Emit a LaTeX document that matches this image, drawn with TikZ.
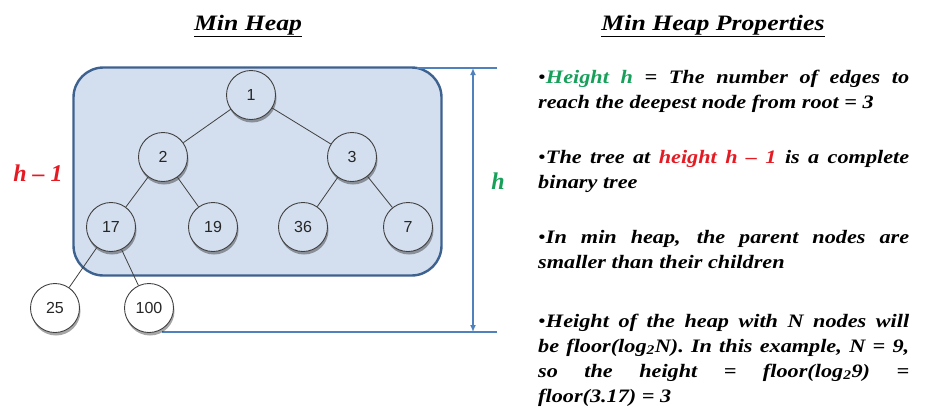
\documentclass[tikz,border=0pt]{standalone}
\usepackage{fontspec}
\setmainfont[FakeStretch=1.17]{Liberation Serif}
\newfontfamily\labelfont{Liberation Serif}
\newfontfamily\treefont{Liberation Sans}
\usetikzlibrary{shadows,arrows.meta}
\definecolor{boxfill}{HTML}{D3DEEE}
\definecolor{boxline}{HTML}{3E6290}
\definecolor{dimline}{HTML}{4F81BD}
\definecolor{hgreen}{HTML}{17A05A}
\definecolor{hred}{HTML}{E51B24}
\definecolor{edgegray}{HTML}{404040}
\tikzset{
  heapnode/.style={circle, draw=edgegray, line width=0.9pt, fill=boxfill, minimum size=49pt, inner sep=0pt,
    font=\treefont\fontsize{16}{16}\selectfont, text=black!85,
    drop shadow={shadow xshift=1pt, shadow yshift=-3pt, opacity=0.35, fill=black}},
  leafnode/.style={heapnode, fill=white},
  treeedge/.style={draw=edgegray, line width=0.8pt},
  dim/.style={draw=dimline, line width=1.6pt},
  prop/.style={anchor=base west, inner sep=0pt, text width=371pt, align=justify,
    font=\bfseries\itshape\fontsize{19}{25}\selectfont},
  title/.style={anchor=base, inner sep=0pt, font=\bfseries\itshape\fontsize{22}{26}\selectfont},
  hlabel/.style={anchor=base, inner sep=0pt, font=\labelfont\bfseries\itshape\fontsize{24}{24}\selectfont}
}
\begin{document}
\begin{tikzpicture}[x=1pt,y=-1pt]
\useasboundingbox (0,0) rectangle (926,416);
% titles
\node[title] (t1) at (248,30) {\underline{Min Heap}};
\node[title] (t2) at (713,30) {\underline{Min Heap Properties}};
% box
\node[draw=boxline, line width=2.4pt, fill=boxfill, rounded corners=30pt, minimum width=368pt, minimum height=208pt, inner sep=0pt] (box) at (257.5,171.5) {};
% dimension lines
\coordinate (topL) at (417,68);
\coordinate (topR) at (497,68);
\coordinate (botL) at (162,332);
\coordinate (botR) at (497,332);
\coordinate (arT) at (473,68);
\coordinate (arB) at (473,332);
\draw[dim] (topL) -- (topR);
\draw[dim] (botL) -- (botR);
\draw[dim, {Latex[length=7pt,width=6pt]}-{Latex[length=7pt,width=6pt]}] (arT) -- (arB);
% labels
\node[hlabel, text=hred] (hm1) at (38,181) {h – 1};
\node[hlabel, text=hgreen] (hh) at (498,189) {h};
% tree
\node[heapnode] (n1) at (251,95) {1};
\node[heapnode] (n2) at (163,157) {2};
\node[heapnode] (n3) at (352,157) {3};
\node[heapnode] (n17) at (111,227) {17};
\node[heapnode] (n19) at (213,227) {19};
\node[heapnode] (n36) at (303,227) {36};
\node[heapnode] (n7) at (408,227) {7};
\node[leafnode] (n25) at (55,308) {25};
\node[leafnode] (n100) at (149,308) {100};
\draw[treeedge] (n1) -- (n2);
\draw[treeedge] (n1) -- (n3);
\draw[treeedge] (n2) -- (n17);
\draw[treeedge] (n2) -- (n19);
\draw[treeedge] (n3) -- (n36);
\draw[treeedge] (n3) -- (n7);
\draw[treeedge] (n17) -- (n25);
\draw[treeedge] (n17) -- (n100);
% properties
\node[prop] (p1) at (538,83) {{\mdseries\upshape •}\textcolor{hgreen}{Height h} = The number of edges to\linebreak reach the deepest node from root = 3};
\node[prop] (p2) at (538,163) {{\mdseries\upshape •}The tree at \textcolor{hred}{height h – 1} is a complete\linebreak binary tree};
\node[prop] (p3) at (538,243) {{\mdseries\upshape •}In min heap, the parent nodes are\linebreak smaller than their children};
\node[prop] (p4) at (538,327) {{\mdseries\upshape •}Height of the heap with N nodes will\linebreak be floor(log\textsubscript{2}N). In this example, N = 9,\linebreak so the height = floor(log\textsubscript{2}9) =\linebreak floor(3.17) = 3};
\end{tikzpicture}
\end{document}
